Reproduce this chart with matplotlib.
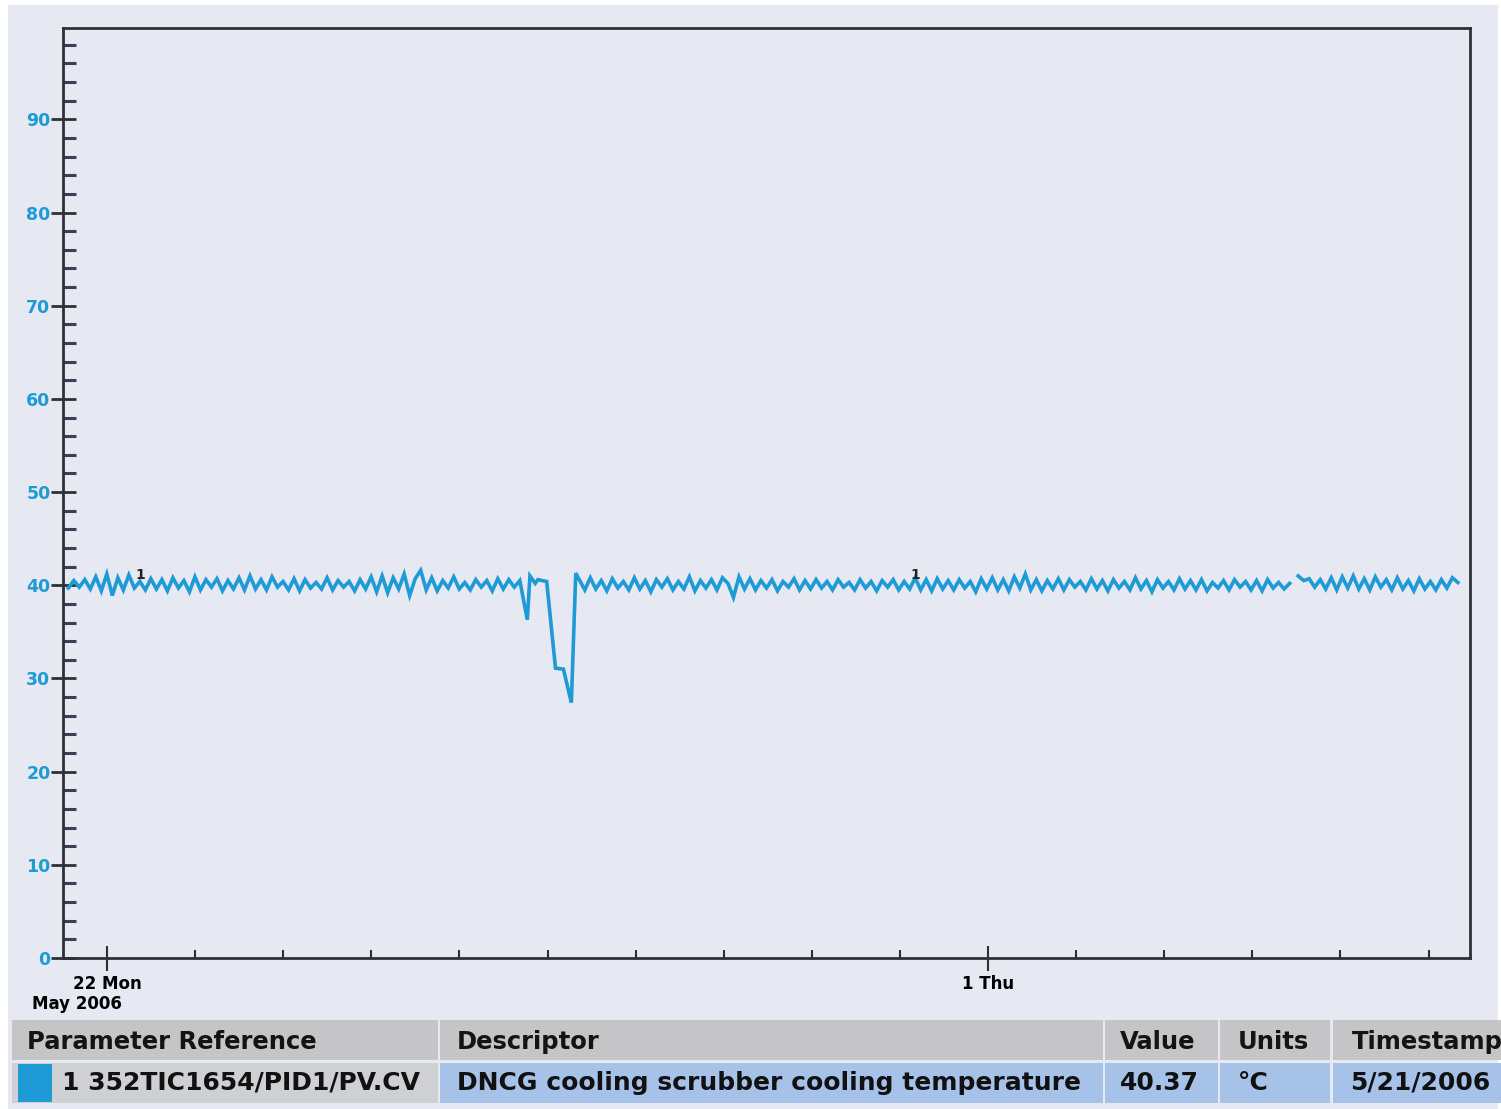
import numpy as np
import matplotlib
matplotlib.use('Agg')
import matplotlib.pyplot as plt
from matplotlib.patches import Rectangle

W, H = 1501, 1109

# Trend data, x in days relative to 22 May 2006 00:00
step = 0.0625  # 1.5 h between samples

seg_a_start = -0.44
seg_a_vals = [
    39.7, 40.5, 39.8, 40.6, 39.6, 40.9, 39.4, 41.2, 38.9, 40.8, 39.5, 41.1, 39.7, 40.4, 39.5, 40.7,
    39.6, 40.6, 39.4, 40.8, 39.7, 40.5, 39.3, 40.9, 39.5, 40.6, 39.8, 40.7, 39.4, 40.5, 39.6, 40.8,
    39.5, 41.0, 39.6, 40.6, 39.5, 40.9, 39.8, 40.4, 39.5, 40.7, 39.4, 40.6, 39.7, 40.3, 39.6, 40.8,
    39.5, 40.5, 39.8, 40.4, 39.4, 40.6, 39.6, 40.9, 39.3, 41.0, 39.2, 40.8, 39.6, 41.2, 38.9, 40.7,
    41.6, 39.5, 40.8, 39.4, 40.5, 39.7, 40.9, 39.6, 40.3, 39.5, 40.6, 39.8, 40.5, 39.4, 40.7, 39.6,
    40.6, 39.8, 40.5,
]

# the dip around 27 May
dip_days = [4.77, 4.80, 4.86, 4.89, 4.99, 5.09, 5.18, 5.27, 5.32]
dip_vals = [36.3, 41.0, 40.2, 40.6, 40.4, 31.1, 31.0, 27.4, 41.3]

seg_b_start = 5.36
seg_b_vals = [
    40.6, 39.5, 40.8, 39.6, 40.5, 39.4, 40.7, 39.7, 40.4, 39.5, 40.8, 39.6, 40.5, 39.3, 40.6, 39.8,
    40.7, 39.5, 40.4, 39.6, 40.9, 39.4, 40.5, 39.7, 40.6, 39.5, 40.8, 40.2, 38.7, 40.9, 39.6, 40.7,
    39.5, 40.5, 39.7, 40.6, 39.4, 40.4, 39.8, 40.7, 39.5, 40.5, 39.6, 40.6, 39.7, 40.4, 39.5, 40.6,
    39.8, 40.3, 39.5, 40.6, 39.7, 40.4, 39.4, 40.5, 39.8, 40.6, 39.5, 40.4, 39.6, 40.8, 39.5, 40.6,
    39.4, 40.7, 39.6, 40.5, 39.5, 40.6, 39.7, 40.4, 39.3, 40.7, 39.6, 40.8, 39.5, 40.6, 39.4, 40.9,
    39.7, 41.2, 39.5, 40.6, 39.4, 40.5, 39.6, 40.7, 39.5, 40.6, 39.8, 40.4, 39.5, 40.7, 39.6, 40.5,
    39.4, 40.6, 39.7, 40.4, 39.5, 40.8, 39.6, 40.5, 39.3, 40.6, 39.7, 40.4, 39.5, 40.7, 39.6, 40.5,
    39.5, 40.6, 39.4, 40.3, 39.7, 40.5, 39.5, 40.6, 39.8, 40.4, 39.5, 40.5, 39.4, 40.6, 39.7, 40.3,
    39.6, 40.2,
]

# after the short gap in the record
seg_c_start = 13.52
seg_c_vals = [
    41.0, 40.5, 40.7, 39.8, 40.6, 39.6, 40.8, 39.5, 40.9, 39.7, 41.0, 39.6, 40.7, 39.5, 40.9, 39.8,
    40.6, 39.5, 40.8, 39.6, 40.5, 39.4, 40.7, 39.6, 40.4, 39.5, 40.6, 39.7, 40.8, 40.3,
]

# trace markers ("1") placed by the trend viewer
marker_days = [0.375, 9.17]
marker_vals = [40.4, 40.3]

x_tick_days = [0, 10]
x_tick_labels = ['22 Mon', '1 Thu']
x_minor_days = [1, 2, 3, 4, 5, 6, 7, 8, 9, 11, 12, 13, 14, 15]

table_header = ['Parameter Reference', 'Descriptor', 'Value', 'Units', 'Timestamp']
table_row = ['1 352TIC1654/PID1/PV.CV', 'DNCG cooling scrubber cooling temperature',
             '40.37', '\u00b0C', '5/21/2006']

# build the series
t_a = seg_a_start + step * np.arange(len(seg_a_vals))
t_b = seg_b_start + step * np.arange(len(seg_b_vals))
t_c = seg_c_start + step * np.arange(len(seg_c_vals))
t = np.concatenate([t_a, dip_days, t_b, [np.nan], t_c])
v = np.concatenate([seg_a_vals, dip_vals, seg_b_vals, [np.nan], seg_c_vals])

page = '#e6e8f2'
blue = '#1e9ad6'
dark = '#2e3038'

fig = plt.figure(figsize=(W / 100, H / 100), dpi=100, facecolor='white')


def rect(x0, y0, x1, y1, color):
    fig.add_artist(Rectangle((x0 / W, 1 - y1 / H), (x1 - x0) / W, (y1 - y0) / H,
                             transform=fig.transFigure, color=color, lw=0, zorder=0))


def ftext(x, y, s, **kw):
    fig.text(x / W, 1 - y / H, s, va='center', fontweight='bold', **kw)


# scanned page background
rect(8, 5, W - 3, H, page)

ax = fig.add_axes([63 / W, 1 - 958 / H, (1470 - 63) / W, (958 - 28) / H])
ax.set_facecolor(page)
ax.plot(t, v, color=blue, lw=2.6, solid_joinstyle='miter')
for d, val in zip(marker_days, marker_vals):
    ax.text(d, val, '1', fontsize=10, fontweight='bold', color='#222222', ha='center', va='bottom')

ax.set_xlim(-0.5, 15.47)
ax.set_ylim(0, 99.8)
for s in ax.spines.values():
    s.set_color(dark)
    s.set_linewidth(2)

ax.set_yticks(np.arange(0, 100, 10))
ax.set_yticks(np.arange(0, 100, 2), minor=True)
ax.tick_params(axis='y', which='major', direction='inout', length=18, width=2, color=dark,
               labelcolor=blue, labelsize=12.5, pad=0)
ax.tick_params(axis='y', which='minor', direction='in', length=9, width=2.2, color='#3a3f58')
for lab in ax.get_yticklabels():
    lab.set_fontweight('bold')

ax.set_xticks(x_tick_days, x_tick_labels)
ax.set_xticks(x_minor_days, minor=True)
ax.tick_params(axis='x', which='major', direction='inout', length=18, width=1.5, color=dark,
               labelsize=12, pad=3)
ax.tick_params(axis='x', which='minor', direction='in', length=6, width=1.5, color=dark)
for lab in ax.get_xticklabels():
    lab.set_fontweight('bold')

ftext(32, 1004, 'May 2006', fontsize=12, ha='left')

# legend table under the chart
cols = [(12, 438), (440, 1103), (1105, 1218), (1220, 1330), (1333, 1520)]
head_x = [27, 457, 1120, 1238, 1352]
for (x0, x1), x, txt in zip(cols, head_x, table_header):
    rect(x0, 1020, x1, 1060, '#c5c5c8')
    ftext(x, 1042, txt, fontsize=17.5, ha='left', color='#141414')

rect(cols[0][0], 1063, cols[0][1], 1103, '#cfd0d4')
rect(18, 1064, 52, 1102, blue)
for (x0, x1) in cols[1:]:
    rect(x0, 1063, x1, 1103, '#a7c2e8')
row_x = [62, 457, 1120, 1238, 1350]
for x, txt in zip(row_x, table_row):
    ftext(x, 1083, txt, fontsize=18, ha='left', color='#111111')

fig.savefig('out.png', dpi=100, facecolor=fig.get_facecolor())
